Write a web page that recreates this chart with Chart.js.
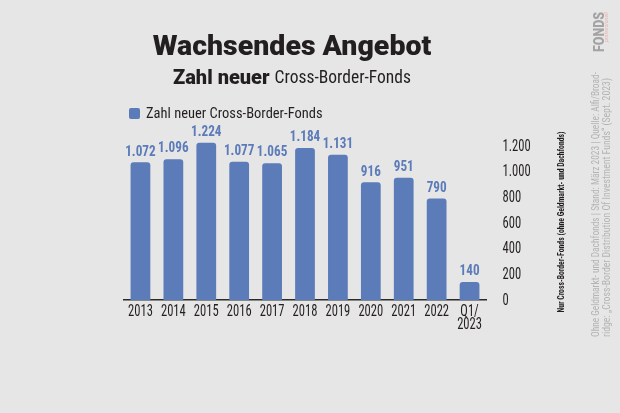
<!DOCTYPE html>
<html>
<head>
<meta charset="utf-8">
<script src="https://cdn.jsdelivr.net/npm/chart.js@4.4.1/dist/chart.umd.min.js"></script>
<style>
  html, body { margin: 0; padding: 0; background: #e6e6e6; }
  #wrap { width: 620px; height: 413px; }
</style>
</head>
<body>
<div id="wrap"><canvas id="chart" width="620" height="413"></canvas></div>
<script>
const categories = ['2013', '2014', '2015', '2016', '2017', '2018', '2019', '2020', '2021', '2022', ['Q1/', '2023']];
const newFunds = [1072, 1096, 1224, 1077, 1065, 1184, 1131, 916, 951, 790, 140];
const yTicks = [0, 200, 400, 600, 800, 1000, 1200];

const seriesLabel = 'Zahl neuer Cross-Border-Fonds';
const BLUE = '#5b7bb9';
const DARK = '#231f20';
const NARROW = '"Roboto Condensed", "Open Sans Condensed", sans-serif';

// 1072 -> "1.072"
const fmt = (n) => n >= 1000 ? Math.floor(n / 1000) + '.' + String(n % 1000).padStart(3, '0') : String(n);

// the original uses a very narrow face, so squeeze the condensed one a bit
function squeezed(ctx, text, x, y, sx) {
  ctx.save();
  ctx.translate(x, y);
  ctx.scale(sx, 1);
  ctx.fillText(text, 0, 0);
  ctx.restore();
}

const background = {
  id: 'background',
  beforeDraw(chart) {
    const { ctx, width, height } = chart;
    ctx.save();
    ctx.fillStyle = '#e6e6e6';
    ctx.fillRect(0, 0, width, height);
    ctx.restore();
  },
};

// tick labels, placed with the chart's own scales
const tickLabels = {
  id: 'tickLabels',
  afterDraw(chart) {
    const { ctx, scales } = chart;
    ctx.save();
    ctx.fillStyle = DARK;
    ctx.font = '17px ' + NARROW;
    ctx.textBaseline = 'middle';

    ctx.textAlign = 'center';
    scales.x.ticks.forEach((t, i) => {
      const lines = [].concat(categories[i]);
      const px = scales.x.getPixelForTick(i);
      lines.forEach((line, j) => squeezed(ctx, line, px, scales.x.top + 12 + j * 12.5, 0.74));
    });

    ctx.textAlign = 'left';
    scales.y.ticks.forEach((t) => {
      squeezed(ctx, fmt(t.value), scales.y.left + 16.5, scales.y.getPixelForValue(t.value) + 0.5, 0.74);
    });
    ctx.restore();
  },
};

const valueLabels = {
  id: 'valueLabels',
  afterDatasetsDraw(chart) {
    const { ctx } = chart;
    const meta = chart.getDatasetMeta(0);
    ctx.save();
    ctx.font = 'bold 15px ' + NARROW;
    ctx.fillStyle = BLUE;
    ctx.textAlign = 'center';
    ctx.textBaseline = 'bottom';
    meta.data.forEach((bar, i) => {
      squeezed(ctx, fmt(newFunds[i]), bar.x, bar.y - 3, 0.88);
    });
    ctx.restore();
  },
};

function vertical(ctx, text, x, y, align, maxW) {
  ctx.save();
  ctx.translate(x, y);
  ctx.rotate(-Math.PI / 2);
  ctx.textAlign = align;
  ctx.fillText(text, 0, 0, maxW);
  ctx.restore();
}

const decorations = {
  id: 'decorations',
  afterDraw(chart) {
    const { ctx } = chart;
    ctx.save();

    // title
    ctx.fillStyle = DARK;
    ctx.textBaseline = 'middle';
    ctx.textAlign = 'center';
    ctx.font = '900 28.5px Roboto';
    ctx.fillText('Wachsendes Angebot', 292, 48, 279);

    // subtitle, mixed weight
    const boldPart = 'Zahl neuer ';
    const lightPart = 'Cross-Border-Fonds';
    ctx.font = '900 20px Roboto';
    const w1 = ctx.measureText(boldPart).width;
    ctx.font = '17.5px ' + NARROW;
    const w2 = ctx.measureText(lightPart).width;
    const x = 292 - (w1 + w2) / 2;
    ctx.textAlign = 'left';
    ctx.font = '900 20px Roboto';
    ctx.fillText(boldPart, x, 78.5);
    ctx.font = '17.5px ' + NARROW;
    ctx.fillText(lightPart, x + w1, 78.5);

    // legend
    ctx.fillStyle = BLUE;
    ctx.beginPath();
    ctx.roundRect(129, 108, 11, 11, 2);
    ctx.fill();
    ctx.fillStyle = DARK;
    ctx.font = '14.5px ' + NARROW;
    ctx.fillText(seriesLabel, 146, 114);

    // vertical note next to axis
    ctx.textBaseline = 'middle';
    ctx.font = 'bold 9px ' + NARROW;
    ctx.fillStyle = DARK;
    vertical(ctx, 'Nur Cross-Border-Fonds (ohne Geldmarkt- und Dachfonds)', 562, 222, 'center', 181);

    // source notes
    ctx.fillStyle = '#b4b4b4';
    ctx.font = '10px ' + NARROW;
    vertical(ctx, 'Ohne Geldmarkt- und Dachfonds | Stand: März 2023 | Quelle: Alfi/Broad-', 596, 337, 'left', 265);
    vertical(ctx, 'ridge: „Cross-Border Distribution Of Investment Funds“ (Sept. 2023)', 607, 337, 'left', 259);

    // logo
    ctx.font = '900 14px Roboto';
    ctx.fillStyle = '#a3a3a3';
    vertical(ctx, 'FONDS', 600, 52, 'left', 40);
    ctx.font = 'italic 6px ' + NARROW;
    ctx.fillStyle = '#e8b4b4';
    vertical(ctx, 'professionell', 606, 42, 'left', 30);

    ctx.restore();
  },
};

new Chart(document.getElementById('chart'), {
  type: 'bar',
  data: {
    labels: categories,
    datasets: [
      {
        label: seriesLabel,
        data: newFunds,
        backgroundColor: BLUE,
        borderRadius: { topLeft: 3, topRight: 3 },
        borderSkipped: 'bottom',
        barPercentage: 0.6,
        categoryPercentage: 1,
      },
    ],
  },
  options: {
    responsive: false,
    animation: false,
    layout: {
      padding: { left: 124, right: 64, top: 133, bottom: 73 },
    },
    plugins: {
      legend: { display: false },
      tooltip: { enabled: false },
    },
    scales: {
      x: {
        grid: { display: false },
        border: { display: true, color: '#2a2a2a', width: 1.5 },
        ticks: { display: false, autoSkip: false },
        afterFit(scale) { scale.height = 40; },
      },
      y: {
        position: 'right',
        min: 0,
        max: 1300,
        grid: { display: false },
        border: { display: false },
        afterBuildTicks(scale) {
          scale.ticks = yTicks.map((v) => ({ value: v }));
        },
        ticks: { display: false },
        afterFit(scale) { scale.width = 70; },
      },
    },
  },
  plugins: [background, valueLabels, tickLabels, decorations],
});
</script>
</body>
</html>
